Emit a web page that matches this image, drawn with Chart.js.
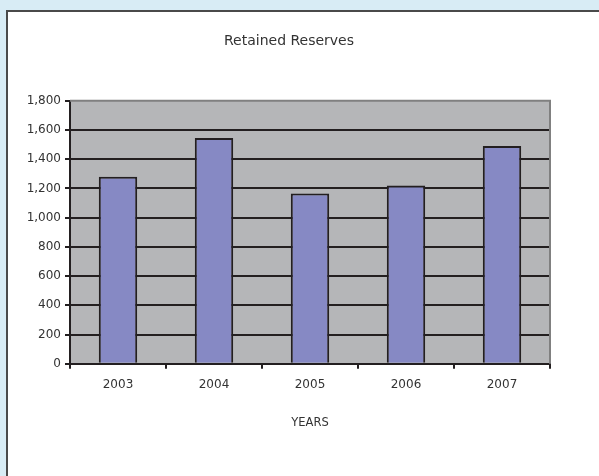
<!DOCTYPE html>
<html>
  <head>
    <title>Retained Reserves</title>
    <script src="https://cdn.jsdelivr.net/npm/chart.js"></script>
    <style>
      html,
      body {
        margin: 0;
        padding: 0;
        width: 599px;
        height: 476px;
        overflow: hidden;
        background: #d8ecf5;
      }
      .frame {
        position: absolute;
        left: 6px;
        top: 10px;
        width: 620px;
        height: 500px;
        background: #ffffff;
        border: 2px solid #4a4a4a;
      }
      .chart-box {
        position: absolute;
        left: 0;
        top: 0;
        width: 599px;
        height: 476px;
      }
    </style>
  </head>
  <body>
    <div class="frame"></div>
    <div class="chart-box">
      <canvas id="reserves_chart"></canvas>
    </div>

    <script>
      var years = ["2003", "2004", "2005", "2006", "2007"];
      var reserves = [1280, 1545, 1165, 1220, 1490];
      var yTicks = [0, 200, 400, 600, 800, 1000, 1200, 1400, 1600, 1800];

      var ink = "#231f20";
      var textColor = "#333333";
      var fontFamily = "'DejaVu Sans', sans-serif";

      // gray plot background with a thin gray border on top and right
      var plotBackground = {
        id: "plotBackground",
        beforeDraw: function (chart) {
          var a = chart.chartArea;
          var ctx = chart.ctx;
          ctx.save();
          ctx.fillStyle = "#b5b6b8";
          ctx.fillRect(a.left, a.top, a.right - a.left, a.bottom - a.top);
          ctx.restore();
        },
        afterDraw: function (chart) {
          var a = chart.chartArea;
          var ctx = chart.ctx;
          ctx.save();
          ctx.strokeStyle = "#808080";
          ctx.lineWidth = 2;
          ctx.beginPath();
          ctx.moveTo(a.left, a.top);
          ctx.lineTo(a.right, a.top);
          ctx.lineTo(a.right, a.bottom);
          ctx.stroke();
          ctx.restore();
        },
      };

      var ctx = document.getElementById("reserves_chart").getContext("2d");

      var myChart = new Chart(ctx, {
        type: "bar",
        data: {
          labels: years,
          datasets: [
            {
              label: "Retained Reserves",
              data: reserves,
              backgroundColor: "#8689c4",
              borderColor: ink,
              borderWidth: 2,
              barPercentage: 0.8,
              categoryPercentage: 0.5,
            },
          ],
        },
        options: {
          responsive: true,
          maintainAspectRatio: false,
          animation: false,
          layout: {
            padding: { left: 28, right: 49, top: 33, bottom: 46 },
          },
          plugins: {
            legend: { display: false },
            tooltip: { enabled: false },
            title: {
              display: true,
              text: "Retained Reserves",
              color: textColor,
              font: { family: fontFamily, size: 14, weight: "normal" },
              padding: { top: 0, bottom: 51 },
            },
          },
          scales: {
            x: {
              grid: {
                drawOnChartArea: false,
                drawTicks: true,
                tickLength: 5,
                color: ink,
                lineWidth: 2,
              },
              border: { color: ink, width: 2 },
              ticks: {
                color: textColor,
                padding: 9,
                font: { family: fontFamily, size: 12 },
              },
              title: {
                display: true,
                text: "YEARS",
                color: textColor,
                font: { family: fontFamily, size: 11.5 },
                padding: { top: 15, bottom: 0 },
              },
            },
            y: {
              min: 0,
              max: 1800,
              afterFit: function (scale) {
                scale.width = 42;
              },
              afterBuildTicks: function (scale) {
                scale.ticks = yTicks.map(function (v) {
                  return { value: v };
                });
              },
              grid: {
                drawTicks: true,
                tickLength: 5,
                tickColor: ink,
                lineWidth: 2,
                color: function (c) {
                  return c.tick && c.tick.value === 1800 ? "rgba(0,0,0,0)" : ink;
                },
              },
              border: { color: ink, width: 2 },
              ticks: {
                color: textColor,
                padding: 4,
                font: { family: fontFamily, size: 12 },
                callback: function (v) {
                  return v.toLocaleString("en-US");
                },
              },
            },
          },
        },
        plugins: [plotBackground],
      });
    </script>
  </body>
</html>
